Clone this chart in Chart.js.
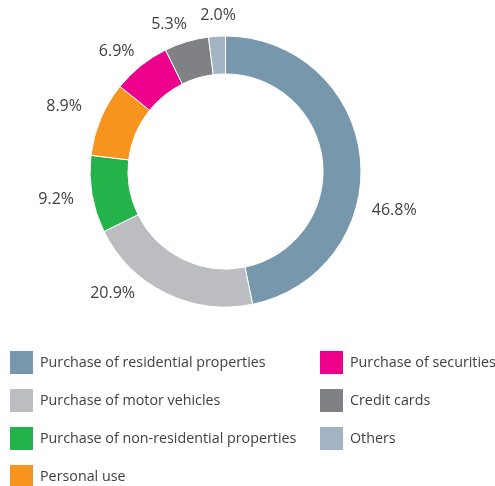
<!DOCTYPE html>
<html>
<head>
<meta charset="utf-8">
<script src="https://cdn.jsdelivr.net/npm/chart.js@4"></script>
<style>
  html, body { margin: 0; padding: 0; background: #ffffff; }
  #wrap { position: relative; width: 495px; height: 486px; }
</style>
</head>
<body>
<div id="wrap"><canvas id="c"></canvas></div>
<script>
// ---- data ----
const categories = [
  "Purchase of residential properties",
  "Purchase of motor vehicles",
  "Purchase of non-residential properties",
  "Personal use",
  "Purchase of securities",
  "Credit cards",
  "Others"
];
const shares = [46.8, 20.9, 9.2, 8.9, 6.9, 5.3, 2.0];
const colors = ["#7797AC", "#BCBDC0", "#24B34B", "#F7941D", "#EC008C", "#808184", "#A2B4C3"];

// ---- label placement styling (angle shift in degrees, distance beyond outer edge) ----
const labelShiftDeg = [18.6, 16.8, 0.5, -1.0, -3.4, -4.3, 0.9];
const labelGap = [37.5, 30.3, 36, 38.4, 26.8, 21.8, 21.2];

// legend layout: column-major, 4 rows in column 1
const legendRows = 4;

const textColor = "#404040";
const fontFamily = "'Open Sans', 'Noto Sans', sans-serif";

const outsideLabels = {
  id: "outsideLabels",
  afterDatasetsDraw(chart) {
    const ctx = chart.ctx;
    const meta = chart.getDatasetMeta(0);
    ctx.save();
    ctx.fillStyle = textColor;
    ctx.font = "16px " + fontFamily;
    ctx.textAlign = "center";
    ctx.textBaseline = "middle";
    meta.data.forEach((arc, i) => {
      const p = arc.getProps(["x", "y", "startAngle", "endAngle", "outerRadius"], true);
      const a = (p.startAngle + p.endAngle) / 2 + labelShiftDeg[i] * Math.PI / 180;
      const r = p.outerRadius + labelGap[i];
      const txt = shares[i].toFixed(1) + "%";
      ctx.fillText(txt, p.x + Math.cos(a) * r, p.y + Math.sin(a) * r);
    });
    ctx.restore();
  }
};

const gridLegend = {
  id: "gridLegend",
  afterDraw(chart) {
    const ctx = chart.ctx;
    const items = chart.options.plugins.legend.labels.generateLabels(chart);
    ctx.save();
    ctx.font = "14.3px " + fontFamily;
    ctx.textBaseline = "middle";
    ctx.textAlign = "left";
    items.forEach((it, i) => {
      const col = Math.floor(i / legendRows);
      const row = i % legendRows;
      const bx = col === 0 ? 10 : 320;
      const cy = 362.5 + row * 38;
      ctx.fillStyle = it.fillStyle;
      ctx.fillRect(bx, cy - 11.5, 23, 23);
      ctx.fillStyle = textColor;
      ctx.fillText(it.text, bx + 30, cy);
    });
    ctx.restore();
  }
};

new Chart(document.getElementById("c"), {
  type: "doughnut",
  data: {
    labels: categories,
    datasets: [{
      data: shares,
      backgroundColor: colors,
      borderColor: "#ffffff",
      borderWidth: 1,
      hoverOffset: 0
    }]
  },
  options: {
    responsive: true,
    maintainAspectRatio: false,
    animation: false,
    cutout: "72%",
    layout: { padding: { left: 89.5, top: 35.5, right: 133.5, bottom: 178.5 } },
    plugins: {
      legend: { display: false },
      tooltip: { enabled: false }
    }
  },
  plugins: [outsideLabels, gridLegend]
});
</script>
</body>
</html>
